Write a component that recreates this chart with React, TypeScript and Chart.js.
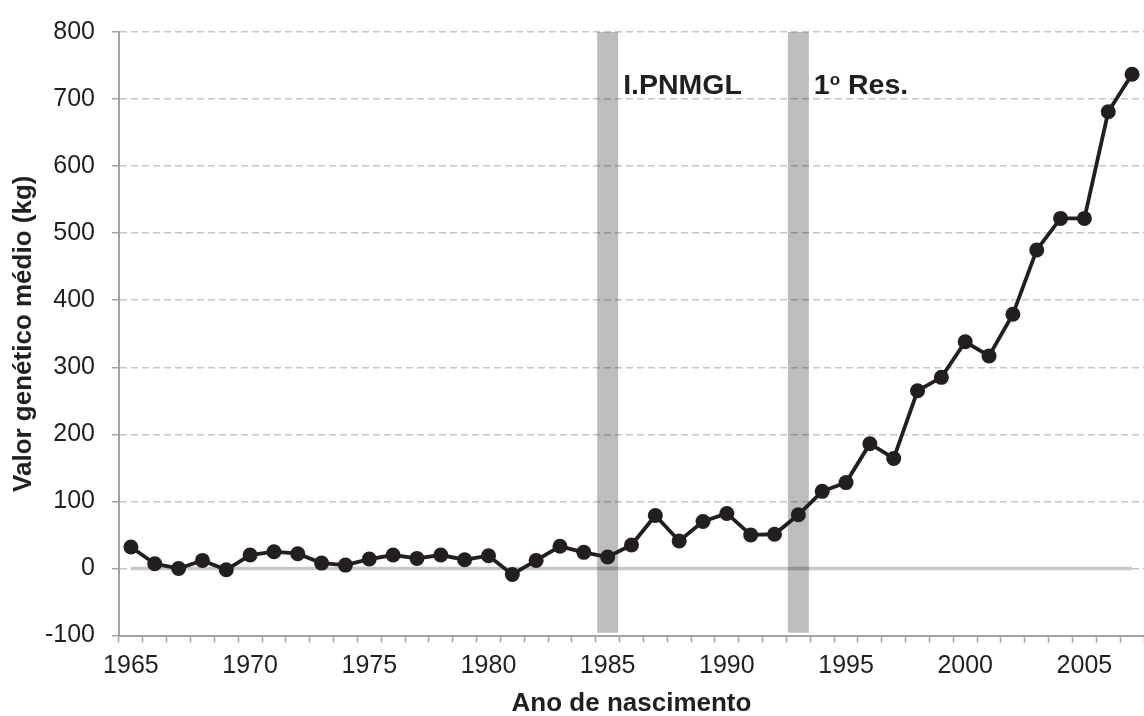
import React, { useEffect, useRef } from "react";
import { Chart, registerables } from "chart.js";

Chart.register(...registerables);

const years = [
  "1965", "1966", "1967", "1968", "1969", "1970", "1971", "1972", "1973", "1974",
  "1975", "1976", "1977", "1978", "1979", "1980", "1981", "1982", "1983", "1984",
  "1985", "1986", "1987", "1988", "1989", "1990", "1991", "1992", "1993", "1994",
  "1995", "1996", "1997", "1998", "1999", "2000", "2001", "2002", "2003", "2004",
  "2005", "2006", "2007",
];

const geneticValue = [
  32, 7, 0, 12, -2, 20, 25, 22, 8, 5,
  14, 20, 15, 20, 13, 19, -9, 12, 33, 24,
  17, 35, 79, 41, 70, 82, 50, 51, 80, 115,
  128, 186, 164, 265, 285, 338, 317, 379, 475, 522,
  522, 681, 737,
];

const zeroLine = [
  0, 0, 0, 0, 0, 0, 0, 0, 0, 0,
  0, 0, 0, 0, 0, 0, 0, 0, 0, 0,
  0, 0, 0, 0, 0, 0, 0, 0, 0, 0,
  0, 0, 0, 0, 0, 0, 0, 0, 0, 0,
  0, 0, 0,
];

const tickYears = ["1965", "1970", "1975", "1980", "1985", "1990", "1995", "2000", "2005"];

const markerYears = ["1985", "1993"];
const markerLabels = ["I.PNMGL", "1º Res."];
const markerRange = [-96, 800];
const markerLabelValue = 707;

const yMin = -100;
const yMax = 800;
const yStep = 100;

const FONT = "'Liberation Sans', Arial, sans-serif";
const TEXT = "#231f20";
const AXIS = "#a3a3a3";

const markerTextPlugin = {
  id: "markerText",
  afterDatasetsDraw(chart: any) {
    const { ctx, scales } = chart;
    const xs = scales.x;
    const ys = scales.y;
    const half = (xs.width / years.length) * 0.88 / 2;
    const big = 28.5;
    const small = 17;
    ctx.save();
    ctx.fillStyle = TEXT;
    ctx.textAlign = "left";
    ctx.textBaseline = "alphabetic";
    markerYears.forEach((yr, i) => {
      const idx = years.indexOf(yr);
      let x = xs.getPixelForValue(idx) + half + 5;
      const y = ys.getPixelForValue(markerLabelValue);
      const parts = markerLabels[i].split("º");
      parts.forEach((part, k) => {
        if (k > 0) {
          ctx.font = `bold ${small}px ${FONT}`;
          ctx.fillText("o", x, y - big * 0.33);
          x += ctx.measureText("o").width;
        }
        ctx.font = `bold ${big}px ${FONT}`;
        ctx.fillText(part, x, y);
        x += ctx.measureText(part).width;
      });
    });
    ctx.restore();
  },
};

const multiplyPlugin = {
  id: "multiplyBars",
  beforeDatasetDraw(chart: any, args: any) {
    if (args.meta.type === "bar") {
      chart.ctx.save();
      chart.ctx.globalCompositeOperation = "multiply";
    }
  },
  afterDatasetDraw(chart: any, args: any) {
    if (args.meta.type === "bar") {
      chart.ctx.restore();
    }
  },
};

export default function App() {
  const ref = useRef<HTMLCanvasElement | null>(null);

  useEffect(() => {
    if (!ref.current) return;
    const chart = new Chart(ref.current, {
      type: "line",
      data: {
        labels: years,
        datasets: [
          {
            type: "line",
            label: "Valor genético médio",
            data: geneticValue,
            borderColor: TEXT,
            backgroundColor: TEXT,
            borderWidth: 3.8,
            pointRadius: 7.5,
            pointBorderWidth: 0,
            pointBackgroundColor: TEXT,
            tension: 0,
            clip: false,
            order: 0,
          },
          {
            type: "bar",
            label: "Marcos",
            data: years.map((y) => (markerYears.includes(y) ? markerRange : null)) as any,
            backgroundColor: "#bdbdbd",
            borderWidth: 0,
            barPercentage: 0.88,
            categoryPercentage: 1,
            order: 1,
          },
          {
            type: "line",
            label: "Zero",
            data: zeroLine,
            borderColor: "#c8c8c8",
            borderWidth: 3.5,
            pointRadius: 0,
            order: 2,
          },
        ],
      },
      options: {
        animation: false,
        responsive: false,
        maintainAspectRatio: false,
        layout: { autoPadding: false, padding: { left: 0, right: 0, top: 25, bottom: 0 } },
        plugins: {
          legend: { display: false },
          tooltip: { enabled: false },
        },
        scales: {
          x: {
            type: "category",
            offset: true,
            grid: {
              display: true,
              offset: true,
              drawOnChartArea: false,
              drawTicks: true,
              tickLength: 7,
              tickColor: AXIS,
              tickWidth: 1.5,
            },
            border: { display: true, color: AXIS, width: 2 },
            ticks: {
              autoSkip: false,
              maxRotation: 0,
              minRotation: 0,
              padding: 8.5,
              color: TEXT,
              font: { family: FONT, size: 25 },
              callback: (_v: any, i: number) => (tickYears.includes(years[i]) ? years[i] : ""),
            },
            title: {
              display: true,
              text: "Ano de nascimento",
              color: TEXT,
              font: { family: FONT, size: 26, weight: "bold" },
              padding: { top: 0, bottom: -3.6 },
            },
            afterFit: (s: any) => {
              s.height = 80.5;
              s.paddingLeft = 0;
              s.paddingRight = 0;
            },
          },
          y: {
            min: yMin,
            max: yMax,
            ticks: {
              stepSize: yStep,
              padding: 17,
              color: TEXT,
              font: { family: FONT, size: 25 },
            },
            grid: {
              color: "#c6c6c6",
              lineWidth: 1.5,
              drawTicks: true,
              tickLength: 7,
              tickColor: AXIS,
              tickWidth: 1.5,
            },
            border: { display: true, color: AXIS, width: 2, dash: [7, 4] },
            title: {
              display: true,
              text: "Valor genético médio (kg)",
              color: TEXT,
              font: { family: FONT, size: 26, weight: "bold" },
              padding: { top: 8.4, bottom: 0 },
            },
            afterFit: (s: any) => {
              s.width = 119;
            },
          },
        },
      },
      plugins: [multiplyPlugin, markerTextPlugin],
    });
    return () => chart.destroy();
  }, []);

  return (
    <div style={{ position: "fixed", left: 0, top: 0, width: 1144, height: 716, background: "#fff" }}>
      <canvas ref={ref} width={1144} height={716} />
    </div>
  );
}
